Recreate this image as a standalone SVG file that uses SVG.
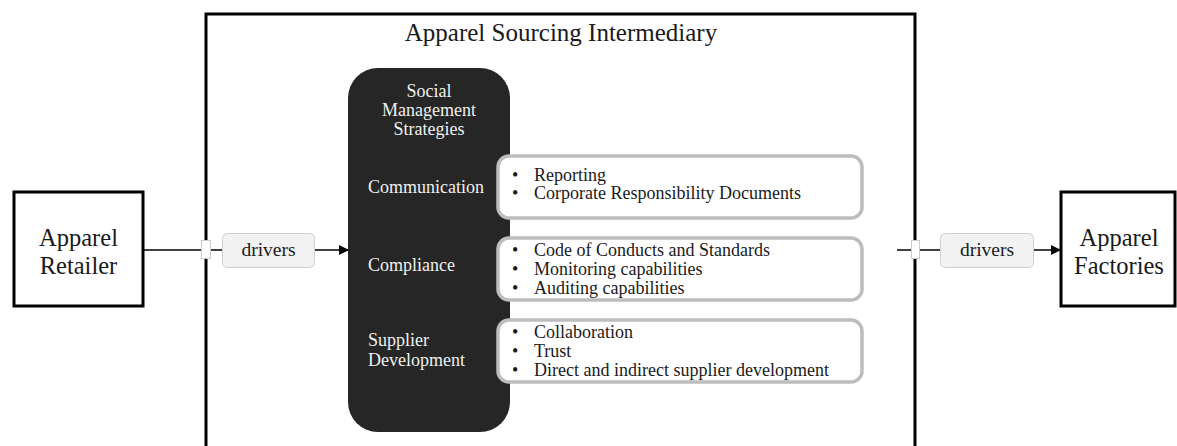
<svg xmlns="http://www.w3.org/2000/svg" width="1177" height="446" viewBox="0 0 1177 446">
<style>
.t{font-family:"Liberation Serif","DejaVu Serif",serif;fill:#1a1a1a}
.w{font-family:"Liberation Serif","DejaVu Serif",serif;fill:#f0f0f0;font-size:18px}
.b{font-family:"Liberation Serif","DejaVu Serif",serif;fill:#1a1a1a;font-size:18px}
.node{fill:#fff;stroke:#000;stroke-width:3}
.lab{fill:#f2f2f2;stroke:#cfcfcf;stroke-width:1}
.item{fill:#fff;stroke:#bdbdbd;stroke-width:3.5}
.item2{fill:none;stroke:#fff;stroke-width:1}
.ln{stroke:#000;stroke-width:1.5;fill:none}
</style>
<defs>
<marker id="ah" markerWidth="10" markerHeight="10" refX="9" refY="5" orient="auto" markerUnits="userSpaceOnUse">
<path d="M0,0 L10,5 L0,10 z" fill="#000"/>
</marker>
</defs>
<rect width="1177" height="446" fill="#fff"/>
<g id="intermediary">
<path d="M206,460 V14 H915 V460" fill="none" stroke="#000" stroke-width="3"/>
<text class="t" x="561" y="41" font-size="25" text-anchor="middle">Apparel Sourcing Intermediary</text>
</g>
<g id="strategies">
<rect x="348" y="68" width="162" height="364" rx="30" fill="#262626"/>
<text class="w" x="429" y="97" text-anchor="middle">Social</text>
<text class="w" x="429" y="116" text-anchor="middle">Management</text>
<text class="w" x="429" y="135" text-anchor="middle">Strategies</text>
<text class="w" x="368" y="193">Communication</text>
<text class="w" x="368" y="271">Compliance</text>
<text class="w" x="368" y="346">Supplier</text>
<text class="w" x="368" y="366">Development</text>
</g>
<g id="communication-items">
<rect class="item" x="498" y="156" width="364" height="62" rx="11"/>
<rect class="item2" x="500.5" y="158.5" width="359" height="57" rx="9"/>
<text class="b" x="512" y="181">•</text><text class="b" x="534" y="181">Reporting</text>
<text class="b" x="512" y="199">•</text><text class="b" x="534" y="199">Corporate Responsibility Documents</text>
</g>
<g id="compliance-items">
<rect class="item" x="498" y="238" width="364" height="62" rx="11"/>
<rect class="item2" x="500.5" y="240.5" width="359" height="57" rx="9"/>
<text class="b" x="512" y="256">•</text><text class="b" x="534" y="256">Code of Conducts and Standards</text>
<text class="b" x="512" y="275">•</text><text class="b" x="534" y="275">Monitoring capabilities</text>
<text class="b" x="512" y="294">•</text><text class="b" x="534" y="294">Auditing capabilities</text>
</g>
<g id="supplier-items">
<rect class="item" x="498" y="320" width="364" height="62" rx="11"/>
<rect class="item2" x="500.5" y="322.5" width="359" height="57" rx="9"/>
<text class="b" x="512" y="338">•</text><text class="b" x="534" y="338">Collaboration</text>
<text class="b" x="512" y="357">•</text><text class="b" x="534" y="357">Trust</text>
<text class="b" x="512" y="376">•</text><text class="b" x="534" y="376">Direct and indirect supplier development</text>
</g>
<g id="retailer">
<rect class="node" x="14" y="192" width="129" height="114"/>
<text class="t" x="78.5" y="246" font-size="24.5" text-anchor="middle">Apparel</text>
<text class="t" x="78.5" y="274" font-size="24.5" text-anchor="middle">Retailer</text>
</g>
<g id="factories">
<rect class="node" x="1061" y="192" width="114" height="114"/>
<text class="t" x="1119" y="246" font-size="24.5" text-anchor="middle">Apparel</text>
<text class="t" x="1119" y="274" font-size="24.5" text-anchor="middle">Factories</text>
</g>
<g id="connectors">
<line class="ln" x1="143" y1="250" x2="222" y2="250"/>
<rect x="201.5" y="240.5" width="9" height="18" fill="#fff" stroke="#ccc" stroke-width="1"/>
<rect class="lab" x="222.5" y="233.5" width="92" height="34" rx="5"/>
<text class="t" x="268.5" y="256" font-size="19.5" text-anchor="middle">drivers</text>
<line class="ln" x1="315" y1="250" x2="348" y2="250" marker-end="url(#ah)"/>
<line class="ln" x1="897" y1="250" x2="940" y2="250"/>
<rect x="911.5" y="240.5" width="8" height="18" fill="#fff" stroke="#ccc" stroke-width="1"/>
<rect class="lab" x="940.5" y="233.5" width="93" height="34" rx="5"/>
<text class="t" x="987" y="256" font-size="19.5" text-anchor="middle">drivers</text>
<line class="ln" x1="1034" y1="250" x2="1060" y2="250" marker-end="url(#ah)"/>
</g>
</svg>
